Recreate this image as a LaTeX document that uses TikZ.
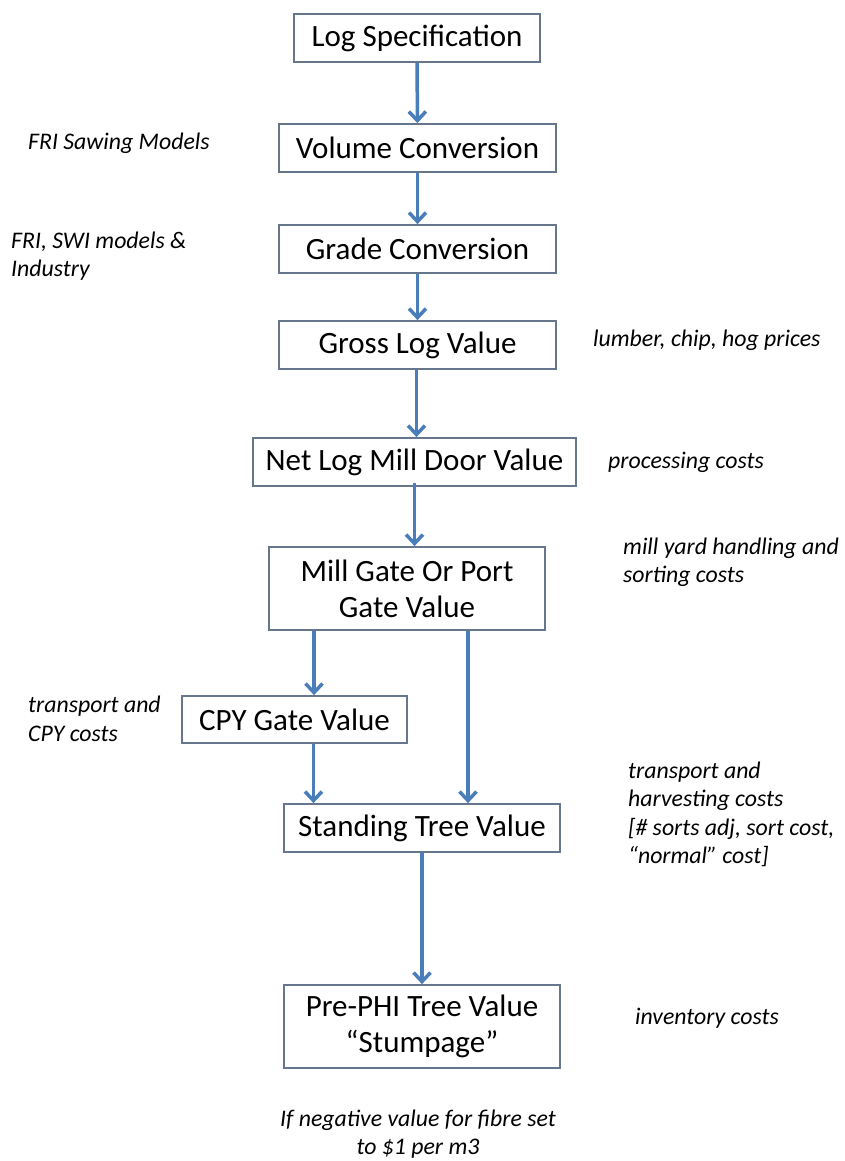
\documentclass[tikz,border=0pt]{standalone}
\usepackage{fontspec}
\setmainfont{Carlito}
\usetikzlibrary{arrows.meta}
\definecolor{boxline}{HTML}{66768C}
\definecolor{arrowblue}{HTML}{4A7EBB}
\begin{document}
\begin{tikzpicture}[x=1pt,y=-1pt,
  flowbox/.style={draw=boxline,line width=1.8pt,fill=white,inner sep=0pt,align=center,
    font=\fontsize{31}{36}\selectfont},
  note/.style={anchor=west,align=left,inner sep=0pt,
    font=\fontsize{23.8}{28.5}\selectfont\itshape},
  flow/.style={draw=arrowblue,line width=3.5pt,-{Straight Barb[length=9pt,width=17pt]}}]
\useasboundingbox[fill=white] (0,0) rectangle (845,1161);
% boxes
\node[flowbox,minimum width=246pt,minimum height=48pt] (log) at (417,38) {Log Specification};
\node[flowbox,minimum width=277pt,minimum height=48pt] (vol) at (417.5,148) {Volume Conversion};
\node[flowbox,minimum width=277pt,minimum height=48pt] (grade) at (417.5,249) {Grade Conversion};
\node[flowbox,minimum width=277pt,minimum height=48pt] (gross) at (417.5,345) {Gross Log Value};
\node[flowbox,minimum width=323pt,minimum height=48pt] (net) at (414.5,462) {Net Log Mill Door Value};
\node[flowbox,minimum width=276pt,minimum height=83pt] (mill) at (407,588.5) {Mill Gate Or Port\\Gate Value};
\node[flowbox,minimum width=225pt,minimum height=47pt] (cpy) at (294.5,719.5) {CPY Gate Value};
\node[flowbox,minimum width=276pt,minimum height=48pt] (stand) at (422,828) {Standing Tree Value};
\node[flowbox,minimum width=276pt,minimum height=83pt] (pre) at (422,1026.5) {Pre-PHI Tree Value\\“Stumpage”};
% connectors
\draw[flow] (log) -- (vol);
\draw[flow] (vol) -- (grade);
\draw[flow] (grade) -- (gross);
\draw[flow] ([xshift=-1pt]gross.south) -- ([xshift=-1pt]gross.south |- net.north);
\draw[flow] ([yshift=4pt]net.south) -- (net.south |- mill.north);
\draw[flow] ([xshift=19.5pt]cpy.north |- mill.south) -- ([xshift=19.5pt]cpy.north);
\draw[flow] ([xshift=46pt]stand.north |- mill.south) -- ([xshift=46pt]stand.north);
\draw[flow] ([xshift=19pt]cpy.south) -- ([xshift=19pt]cpy.south |- stand.north);
\draw[flow] (stand) -- (pre);
% notes
\node[note] (n1) at (28,143) {FRI Sawing Models};
\node[note] (n2) at (11,256) {FRI, SWI models \&\\Industry};
\node[note] (n3) at (593,340) {lumber, chip, hog prices};
\node[note] (n4) at (608,462) {processing costs};
\node[note] (n5) at (623,562.5) {mill yard handling and\\sorting costs};
\node[note] (n6) at (28,719) {transport and\\CPY costs};
\node[note] (n7) at (628,814.5) {transport and\\harvesting costs\\{[}\# sorts adj, sort cost,\\“normal” cost{]}};
\node[note] (n8) at (635,1018) {inventory costs};
\node[note,anchor=center,align=center] (n9) at (418,1134) {If negative value for fibre set\\to \$1 per m3};
\end{tikzpicture}
\end{document}
